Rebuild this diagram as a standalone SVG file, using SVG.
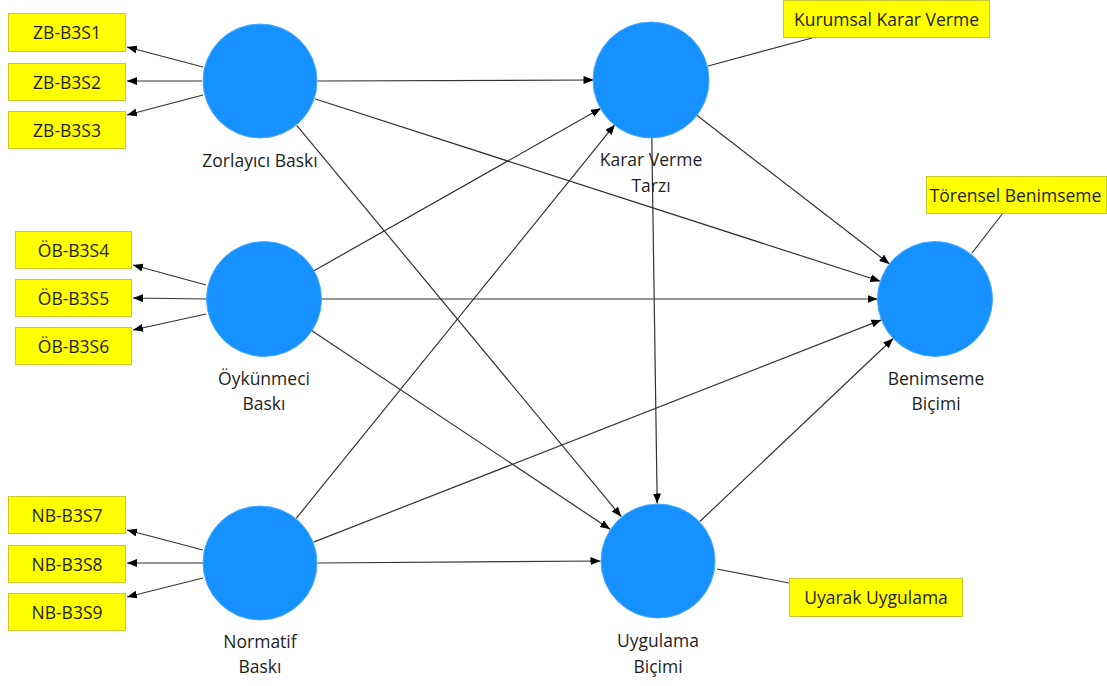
<svg xmlns="http://www.w3.org/2000/svg" width="1107" height="686" viewBox="0 0 1107 686">
<defs>
<marker id="ah" viewBox="0 0 10 8" refX="10" refY="4" markerWidth="10" markerHeight="8" markerUnits="userSpaceOnUse" orient="auto">
<path d="M0,0 L10,4 L0,8 Z" fill="#000"/>
</marker>
</defs>
<style>
.lv{fill:#1592FF;stroke:#4aa9ff;stroke-width:1}
.ind{fill:#FFFF00;stroke:#C8C832;stroke-width:1}
.t{font-family:"Open Sans","Noto Sans","Liberation Sans",sans-serif;font-size:17.5px;fill:#1e1e1e;text-anchor:middle}
.c{stroke:#333;stroke-width:1.2;fill:none}
.a{marker-end:url(#ah)}
</style>
<rect width="1107" height="686" fill="#fff"/>
<g id="connectors">
<line class="c a" x1="203" y1="67" x2="127" y2="47"/>
<line class="c a" x1="202" y1="81" x2="127" y2="81"/>
<line class="c a" x1="203" y1="95" x2="127" y2="115"/>
<line class="c a" x1="206" y1="285" x2="133" y2="265"/>
<line class="c a" x1="206" y1="299" x2="133" y2="298"/>
<line class="c a" x1="206" y1="314" x2="133" y2="330"/>
<line class="c a" x1="203" y1="550" x2="127" y2="530"/>
<line class="c a" x1="203" y1="563" x2="127" y2="563"/>
<line class="c a" x1="203" y1="578" x2="127" y2="597"/>
<line class="c" x1="708" y1="66" x2="812" y2="38"/>
<line class="c" x1="972" y1="253" x2="1003" y2="213"/>
<line class="c" x1="717" y1="569" x2="789" y2="583"/>
<line class="c a" x1="317.5" y1="81" x2="593.5" y2="80"/>
<line class="c a" x1="314.7" y1="98.7" x2="880.3" y2="281.3"/>
<line class="c a" x1="296.7" y1="125.3" x2="621.3" y2="516.7"/>
<line class="c a" x1="314" y1="270.7" x2="601" y2="108.3"/>
<line class="c a" x1="321.5" y1="299" x2="877.5" y2="299"/>
<line class="c a" x1="311.9" y1="330.8" x2="610.1" y2="529.2"/>
<line class="c a" x1="296.2" y1="518.3" x2="614.8" y2="124.7"/>
<line class="c a" x1="313.6" y1="542.1" x2="881.4" y2="319.9"/>
<line class="c a" x1="317.5" y1="563" x2="600.5" y2="561"/>
<line class="c a" x1="696.5" y1="115.1" x2="889.5" y2="263.9"/>
<line class="c a" x1="651.8" y1="137.5" x2="657.2" y2="503.5"/>
<line class="c a" x1="699.8" y1="521.5" x2="893.2" y2="338.5"/>
</g>
<g id="ZB">
<circle class="lv" cx="260" cy="81" r="57"/>
<text class="t" x="260" y="167">Zorlayıcı Baskı</text>
</g>
<g id="OB">
<circle class="lv" cx="264" cy="299" r="57.5"/>
<text class="t" x="264" y="385">Öykünmeci</text>
<text class="t" x="264" y="410">Baskı</text>
</g>
<g id="NB">
<circle class="lv" cx="260" cy="563" r="57"/>
<text class="t" x="260" y="648">Normatif</text>
<text class="t" x="260" y="673">Baskı</text>
</g>
<g id="KVT">
<circle class="lv" cx="651" cy="80" r="58"/>
<text class="t" x="651" y="166">Karar Verme</text>
<text class="t" x="651" y="192">Tarzı</text>
</g>
<g id="BB">
<circle class="lv" cx="935" cy="299" r="57.5"/>
<text class="t" x="936" y="385">Benimseme</text>
<text class="t" x="936" y="410">Biçimi</text>
</g>
<g id="UB">
<circle class="lv" cx="658" cy="561" r="57"/>
<text class="t" x="658" y="647">Uygulama</text>
<text class="t" x="658" y="673">Biçimi</text>
</g>
<g id="ZB-B3S1"><rect class="ind" x="8.5" y="13.5" width="117" height="38"/><text class="t" x="67" y="39">ZB-B3S1</text></g>
<g id="ZB-B3S2"><rect class="ind" x="8.5" y="63.5" width="117" height="37"/><text class="t" x="67" y="88.5">ZB-B3S2</text></g>
<g id="ZB-B3S3"><rect class="ind" x="8.5" y="111.5" width="117" height="37"/><text class="t" x="67" y="136.5">ZB-B3S3</text></g>
<g id="OB-B3S4"><rect class="ind" x="15.5" y="231.5" width="116" height="37"/><text class="t" x="73.5" y="256.5">ÖB-B3S4</text></g>
<g id="OB-B3S5"><rect class="ind" x="15.5" y="279.5" width="116" height="37"/><text class="t" x="73.5" y="304.5">ÖB-B3S5</text></g>
<g id="OB-B3S6"><rect class="ind" x="15.5" y="327.5" width="116" height="37"/><text class="t" x="73.5" y="352.5">ÖB-B3S6</text></g>
<g id="NB-B3S7"><rect class="ind" x="8.5" y="496.5" width="117" height="37"/><text class="t" x="67" y="521.5">NB-B3S7</text></g>
<g id="NB-B3S8"><rect class="ind" x="8.5" y="545.5" width="117" height="37"/><text class="t" x="67" y="570.5">NB-B3S8</text></g>
<g id="NB-B3S9"><rect class="ind" x="8.5" y="593.5" width="117" height="37"/><text class="t" x="67" y="618.5">NB-B3S9</text></g>
<g id="KKV"><rect class="ind" x="783.5" y="0.5" width="206" height="37"/><text class="t" x="886.5" y="25.5">Kurumsal Karar Verme</text></g>
<g id="TB"><rect class="ind" x="926.5" y="176.5" width="180" height="37"/><text class="t" x="1015.5" y="201.5">Törensel Benimseme</text></g>
<g id="UU"><rect class="ind" x="789.5" y="578.5" width="173" height="38"/><text class="t" x="876" y="604">Uyarak Uygulama</text></g>
</svg>
